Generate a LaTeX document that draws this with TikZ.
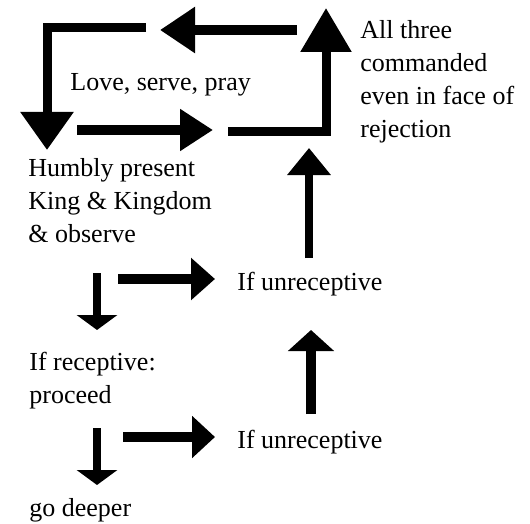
\documentclass[tikz,border=0pt]{standalone}
\usepackage{fontspec}
\setmainfont{Liberation Serif}
\usetikzlibrary{arrows.meta}

\begin{document}
\begin{tikzpicture}[x=0.5pt, y=-0.5pt,
    fat/.style={line width=#1, line join=miter},
    txt/.style={anchor=north west, inner sep=0pt, align=left, font=\fontsize{13}{16.5}\selectfont}]
            \useasboundingbox (0,0) rectangle (530,524);

            % texts
            \node[txt] (allthree) at (360,20) {All three\\commanded\\even in face of\\rejection};
            \node[txt] (love) at (70,73) {Love, serve, pray};
            \node[txt] (humbly) at (28,158) {Humbly present\\King \& Kingdom\\\& observe};
            \node[txt] (unrecA) at (237,272) {If unreceptive};
            \node[txt] (recept) at (29,352) {If receptive:\\proceed};
            \node[txt] (unrecB) at (237,430) {If unreceptive};
            \node[txt] (deeper) at (29,498) {go deeper};

            % end points of the block arrows
            \coordinate (loopA) at (146,28);
            \coordinate (loopB) at (47,28);
            \coordinate (loopC) at (47,150);
            \coordinate (topR) at (297,30);
            \coordinate (topL) at (160,30);
            \coordinate (midL) at (77,130);
            \coordinate (midR) at (213,130);
            \coordinate (upA) at (228,132);
            \coordinate (upB) at (326,132);
            \coordinate (upC) at (326,8);
            \coordinate (toA) at (215,279);
            \coordinate (toB) at (215,437);

            % the loop
            \draw[fat=4.5pt,-{Triangle[length=19pt,width=25.5pt]}] (loopA) -- (loopB) -- (loopC);
            \draw[fat=5pt,-{Triangle[length=17.5pt,width=22pt]}] (topR) -- (topL);
            \draw[fat=5pt,-{Triangle[length=16.5pt,width=20pt]}] (midL) -- (midR);
            \draw[fat=4.5pt,-{Triangle[length=22pt,width=24.5pt]}] (upA) -- (upB) -- (upC);

            % going down
            \draw[fat=4pt,-{Triangle[length=13.5pt,width=21pt]}] (309,258) -- (309,148);
            \draw[fat=5pt,-{Triangle[length=12pt,width=20.5pt]}] (118,279) -- (toA);
            \draw[fat=4.2pt,-{Triangle[length=7.5pt,width=20pt]}] (97,273) -- (97,330);
            \draw[fat=5pt,-{Triangle[length=10.5pt,width=22.5pt]}] (311,414) -- (311,330);
            \draw[fat=5pt,-{Triangle[length=11.5pt,width=20.5pt]}] (123,437) -- (toB);
            \draw[fat=4.2pt,-{Triangle[length=7.5pt,width=20pt]}] (97,428) -- (97,485);
\end{tikzpicture}
\end{document}
